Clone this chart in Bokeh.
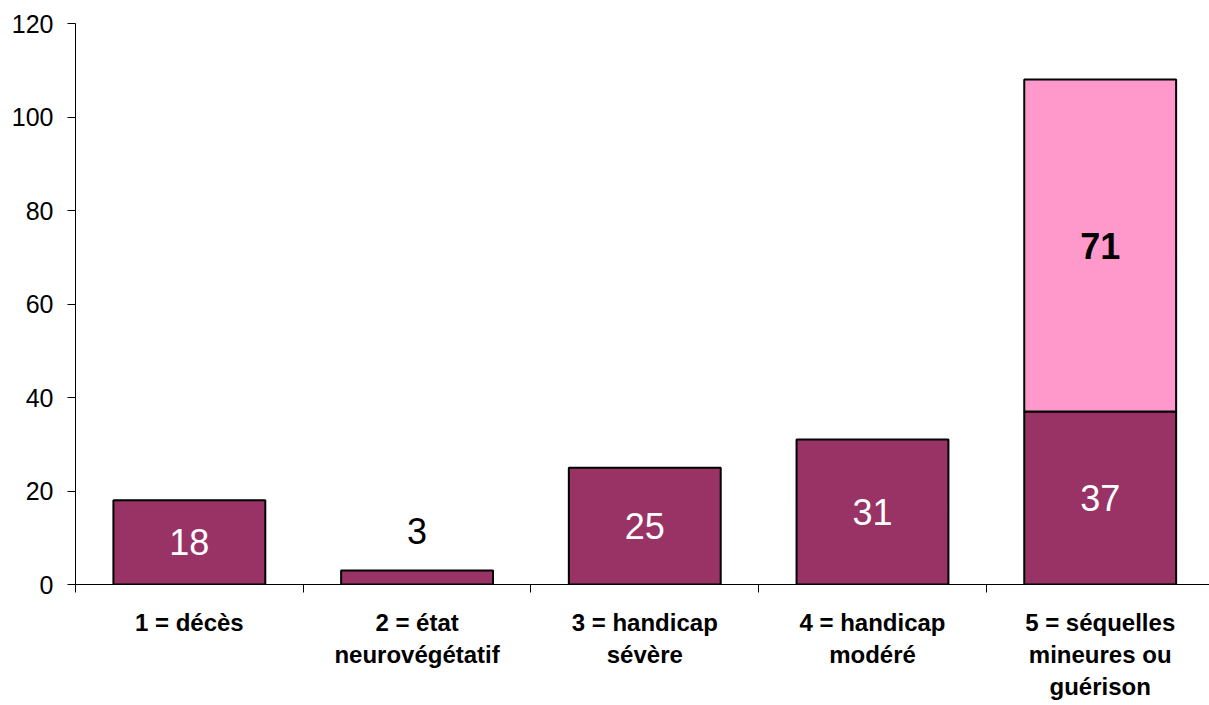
from bokeh.plotting import figure
from bokeh.models import Range1d, LinearAxis, FixedTicker, ColumnDataSource
from bokeh.core.properties import value
from bokeh.embed import file_html
from bokeh.resources import INLINE

categories = ["1 = décès", "2 = état\nneurovégétatif", "3 = handicap\nsévère",
              "4 = handicap\nmodéré", "5 = séquelles\nmineures ou\nguérison"]
series_dark = [18, 3, 25, 31, 37]
series_pink = [0, 0, 0, 0, 71]
y_ticks = [0, 20, 40, 60, 80, 100, 120]

DARK = "#993366"
PINK = "#FF99CC"
FONT = "Liberation Sans"

n = len(categories)
centers = [i + 0.5 for i in range(n)]

p = figure(width=1209, height=705, output_backend="svg", toolbar_location=None,
           x_range=Range1d(0, 4.98), y_range=Range1d(0, 120),
           min_border_left=75, min_border_top=23, min_border_bottom=121, min_border_right=0,
           x_axis_type=None, y_axis_type=None)
p.outline_line_color = None
p.grid.visible = False
p.background_fill_color = "white"

# Y axis
yax = LinearAxis(ticker=FixedTicker(ticks=y_ticks))
yax.axis_line_color = "black"
yax.major_tick_line_color = "black"
yax.major_tick_out = 8
yax.major_tick_in = 0
yax.minor_tick_line_color = None
yax.major_label_text_font = FONT
yax.major_label_text_font_size = "25px"
yax.major_label_text_color = "black"
yax.major_label_standoff = 14
p.add_layout(yax, "left")

# X axis: category labels at centers, boundary ticks as minor ticks
xl = LinearAxis(ticker=FixedTicker(ticks=centers, minor_ticks=list(range(n + 1))))
xl.axis_line_color = "black"
xl.major_tick_line_color = None
xl.major_tick_out = 0
xl.major_tick_in = 0
xl.minor_tick_line_color = "black"
xl.minor_tick_out = 8
xl.minor_tick_in = 0
xl.major_label_overrides = {c: lab for c, lab in zip(centers, categories)}
xl.major_label_text_font = FONT
xl.major_label_text_font_style = "bold"
xl.major_label_text_font_size = "24px"
xl.major_label_text_color = "black"
xl.major_label_standoff = 16
p.add_layout(xl, "below")

# Bars
src = ColumnDataSource(dict(x=centers, dark=series_dark))
p.vbar(x="x", width=0.667, bottom=0, top="dark", source=src,
       fill_color=DARK, line_color="black", line_width=2)
pink_idx = [i for i in range(n) if series_pink[i] > 0]
src2 = ColumnDataSource(dict(x=[centers[i] for i in pink_idx],
                             b=[series_dark[i] for i in pink_idx],
                             t=[series_dark[i] + series_pink[i] for i in pink_idx]))
p.vbar(x="x", width=0.667, bottom="b", top="t", source=src2,
       fill_color=PINK, line_color="black", line_width=2)

# Labels
inside_x, inside_y, inside_t = [], [], []
above_x, above_y, above_t = [], [], []
for i in range(n):
    v = series_dark[i]
    if v >= 10:
        inside_x.append(centers[i]); inside_y.append(v / 2); inside_t.append(str(v))
    else:
        above_x.append(centers[i]); above_y.append(v); above_t.append(str(v))
p.text(x=inside_x, y=inside_y, text=inside_t, text_color="white",
       text_font=value(FONT), text_font_size="36px", text_align="center",
       text_baseline="middle")
p.text(x=above_x, y=above_y, text=above_t, text_color="black",
       text_font=value(FONT), text_font_size="36px", text_align="center",
       text_baseline="bottom", y_offset=-26)
p.text(x=[centers[i] for i in pink_idx],
       y=[series_dark[i] + series_pink[i] / 2 for i in pink_idx],
       text=[str(series_pink[i]) for i in pink_idx], text_color="black",
       text_font=value(FONT), text_font_size="36px", text_font_style="bold",
       text_align="center", text_baseline="middle")

open("out.html", "w").write(file_html(p, INLINE))
